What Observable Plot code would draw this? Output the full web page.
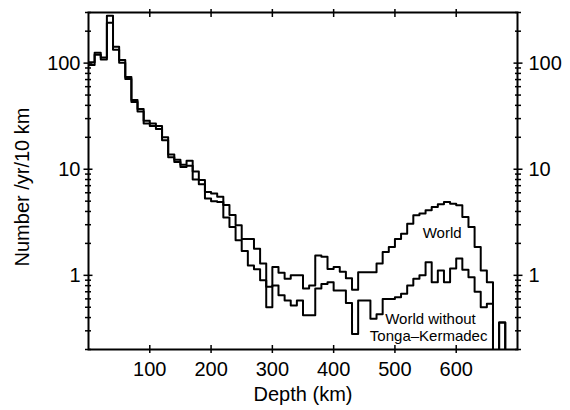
<!DOCTYPE html>
<html><head><meta charset="utf-8">
<script src="https://cdn.jsdelivr.net/npm/d3@7"></script>
<script src="https://cdn.jsdelivr.net/npm/@observablehq/plot@0.6"></script>
<style>
body{margin:0;background:#fff;}
#chart svg{display:block;}
</style></head>
<body><div id="chart"></div>
<script>
// Bin start depths (km), 10 km bins
const depthStart = [0,10,20,30,40,50,60,70,80,90,100,110,120,130,140,150,160,170,180,190,200,210,220,230,240,250,260,270,280,290,300,310,320,330,340,350,360,370,380,390,400,410,420,430,440,450,460,470,480,490,500,510,520,530,540,550,560,570,580,590,600,610,620,630,640,650,660,670,680,690];
const binEnd = 700;
// Number per year per 10 km — World
const world = [102,125,113,280,143,107,74,45,37,28.6, 27,25.5,20,13.8,12.3,11,12,9.5,7.9,6.1, 5.9,5.5,4.6,3.7,2.96,2.2,2.2,1.78,1.29,0.78, 1.2,1.06,0.93,1.0,1.0,0.75,0.8,1.54,1.5,1.15, 1.2,1.08,0.94,0.73,1.07,1.07,1.07,1.29,1.66,1.85, 2.2,2.47,3.07,3.68,3.82,4.1,4.4,4.67,4.92,4.74, 4.58,3.54,2.86,1.85,1.11,0.86,0,0.36,0,0];
// World without Tonga–Kermadec
const withoutTK = [96,120,108,240,134,101,71,43,35,27, 25.5,24,18.8,13,11.7,10.5,10.8,8,7.2,5.3, 5.0,4.9,3.5,2.85,2.14,1.7,1.24,1.14,0.9,0.5, 0.8,0.65,0.58,0.52,0.58,0.42,0.42,0.75,0.83,0.86, 0.72,0.72,0.55,0.28,0.58,0.58,0.39,0.43,0.60,0.60, 0.62,0.67,0.80,0.93,1.0,1.33,0.86,1.11,0.86,1.16, 1.44,1.13,0.96,0.70,0.50,0.54,0,0.36,0,0];

const xTicks = [100,200,300,400,500,600];
const yLabels = [1,10,100];
const yMinor = [0.2,0.3,0.4,0.5,0.6,0.7,0.8,0.9,2,3,4,5,6,7,8,9,20,30,40,50,60,70,80,90,200,300];

const annotText = ["World","World without","Tonga\u2013Kermadec"];
const annotDepth = [577,558,555];
const annotValue = [2.5,0.39,0.265];

const xTitle = "Depth (km)";
const yTitle = "Number /yr/10 km";

const floorValue = 0.05; // below the axis, drawn clipped
function rows(vals){
  const r = depthStart.map((d,i)=>({depth:d, v:vals[i]}));
  r.push({depth:binEnd, v:vals[vals.length-1]});
  return r;
}
const yAcc = d => d.v > 0 ? d.v : floorValue;
const annots = annotText.map((t,i)=>({t, x:annotDepth[i], y:annotValue[i]}));

const chart = Plot.plot({
  width:570, height:410,
  marginLeft:88, marginRight:53, marginTop:12, marginBottom:61,
  style:{fontFamily:"'Liberation Sans', Arial, Helvetica, sans-serif", background:"white", color:"black"},
  x:{domain:[0,700]},
  y:{type:"log", domain:[0.2,300]},
  marks:[
    Plot.line(rows(withoutTK), {x:"depth", y:yAcc, curve:"step-after", stroke:"black", strokeWidth:2, clip:true}),
    Plot.line(rows(world), {x:"depth", y:yAcc, curve:"step-after", stroke:"black", strokeWidth:2, clip:true}),
    Plot.frame({stroke:"black", strokeWidth:2}),
    // crossing ticks
    Plot.axisX(xTicks, {anchor:"bottom", tickSize:8, dy:-4, tickFormat:()=>"", label:null, strokeWidth:1.5}),
    Plot.axisX(xTicks, {anchor:"top", tickSize:8, dy:4, tickFormat:()=>"", label:null, strokeWidth:1.5}),
    Plot.axisY(yLabels, {anchor:"left", tickSize:9, dx:4.5, tickFormat:()=>"", label:null, strokeWidth:1.5}),
    Plot.axisY(yMinor, {anchor:"left", tickSize:6, dx:3, tickFormat:()=>"", label:null, strokeWidth:1.5}),
    Plot.axisY(yLabels, {anchor:"right", tickSize:9, dx:-4.5, tickFormat:()=>"", label:null, strokeWidth:1.5}),
    Plot.axisY(yMinor, {anchor:"right", tickSize:6, dx:-3, tickFormat:()=>"", label:null, strokeWidth:1.5}),
    // tick labels
    Plot.axisX(xTicks, {anchor:"bottom", tickSize:0, tickPadding:12, fontSize:20, label:null}),
    Plot.axisY(yLabels, {anchor:"left", tickSize:0, tickPadding:8, fontSize:20, label:null, tickFormat:d=>String(d)}),
    Plot.axisY(yLabels, {anchor:"right", tickSize:0, tickPadding:11, fontSize:20, label:null, tickFormat:d=>String(d)}),
    // titles
    Plot.text([xTitle], {text:d=>d, frameAnchor:"bottom", dy:51, fontSize:20, textAnchor:"middle"}),
    Plot.text([yTitle], {text:d=>d, frameAnchor:"left", dx:-66, dy:6, rotate:-90, fontSize:20, textAnchor:"middle"}),
    // annotations
    Plot.text(annots, {x:"x", y:"y", text:"t", fontSize:15, textAnchor:"middle"})
  ]
});
document.getElementById("chart").appendChild(chart);
</script>
</body></html>
